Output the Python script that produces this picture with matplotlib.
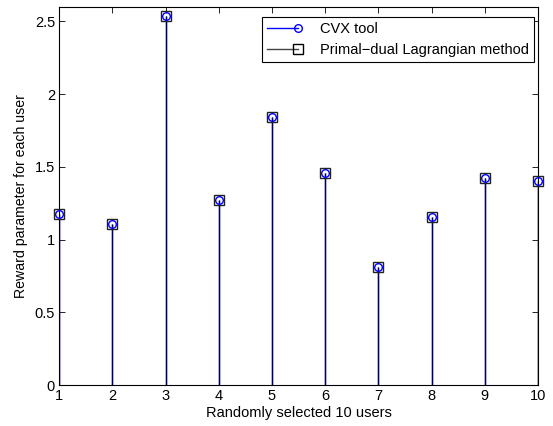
import matplotlib
matplotlib.use("Agg")
import matplotlib.pyplot as plt
from matplotlib.lines import Line2D
from matplotlib.legend_handler import HandlerBase

users = [1, 2, 3, 4, 5, 6, 7, 8, 9, 10]
cvx_values = [1.175, 1.11, 2.54, 1.27, 1.84, 1.46, 0.815, 1.155, 1.425, 1.405]
pd_values = [1.175, 1.11, 2.54, 1.27, 1.84, 1.46, 0.815, 1.155, 1.425, 1.405]
labels = ["CVX tool", "Primal\u2212dual Lagrangian method"]
xlabel = "Randomly selected 10 users"
ylabel = "Reward parameter for each user"

plt.rcParams['font.family'] = ['Liberation Sans', 'DejaVu Sans']
plt.rcParams['font.size'] = 10

fig = plt.figure(figsize=(5.53, 4.26), dpi=100)
ax = fig.add_axes([0.107, 0.096, 0.866, 0.888])

# CVX stems (blue)
ax.vlines(users, 0, cvx_values, colors='#0000ff', lw=1.0, zorder=2)
ax.plot(users, cvx_values, ls='none', marker='o', ms=5.5, mfc='none',
        mec='#0000ff', mew=1.0, zorder=5, clip_on=False)
# Primal-dual stems (black)
ax.vlines(users, 0, pd_values, colors='black', lw=1.0, alpha=0.7, zorder=3)
ax.plot(users, pd_values, ls='none', marker='s', ms=7.5, mfc='none',
        mec='#222222', mew=1.0, zorder=4, clip_on=False)

ax.set_xlim(1, 10)
ax.set_ylim(0, 2.6)
ax.set_xticks(range(1, 11))
ax.set_yticks([0, 0.5, 1, 1.5, 2, 2.5])
ax.set_yticklabels(['0', '0.5', '1', '1.5', '2', '2.5'])
ax.tick_params(direction='in', top=True, right=True, length=4, width=0.6, pad=3,
               labelsize=10.5)
for s in ax.spines.values():
    s.set_linewidth(0.8)
ax.set_xlabel(xlabel, labelpad=2, fontsize=10.5)
ax.set_ylabel(ylabel, labelpad=5, fontsize=10.2)


class StemHandler(HandlerBase):
    def __init__(self, color, marker, ms, mec):
        super().__init__()
        self.color = color
        self.marker = marker
        self.ms = ms
        self.mec = mec

    def create_artists(self, legend, orig_handle, xdescent, ydescent, width,
                       height, fontsize, trans):
        y = height / 2 - ydescent
        x0 = -xdescent
        x1 = width - xdescent
        line = Line2D([x0, x1], [y, y], color=self.color, lw=1.0)
        mk = Line2D([x1], [y], ls='none', marker=self.marker, ms=self.ms,
                    mfc='none', mec=self.mec, mew=1.0)
        line.set_transform(trans)
        mk.set_transform(trans)
        return [line, mk]


h1 = Line2D([], [])
h2 = Line2D([], [])
leg = ax.legend([h1, h2], labels, loc='upper right',
                bbox_to_anchor=(0.9916, 0.973),
                handler_map={h1: StemHandler('#0000ff', 'o', 5.5, '#0000ff'),
                             h2: StemHandler('#444444', 's', 6.5, 'black')},
                frameon=True, fancybox=False, framealpha=1, edgecolor='black',
                fontsize=10.5,
                handlelength=2.1, handletextpad=1.5, borderpad=0.36,
                labelspacing=0.45, borderaxespad=0.0)
leg.get_frame().set_linewidth(0.8)

fig.savefig("out.png", dpi=100)
